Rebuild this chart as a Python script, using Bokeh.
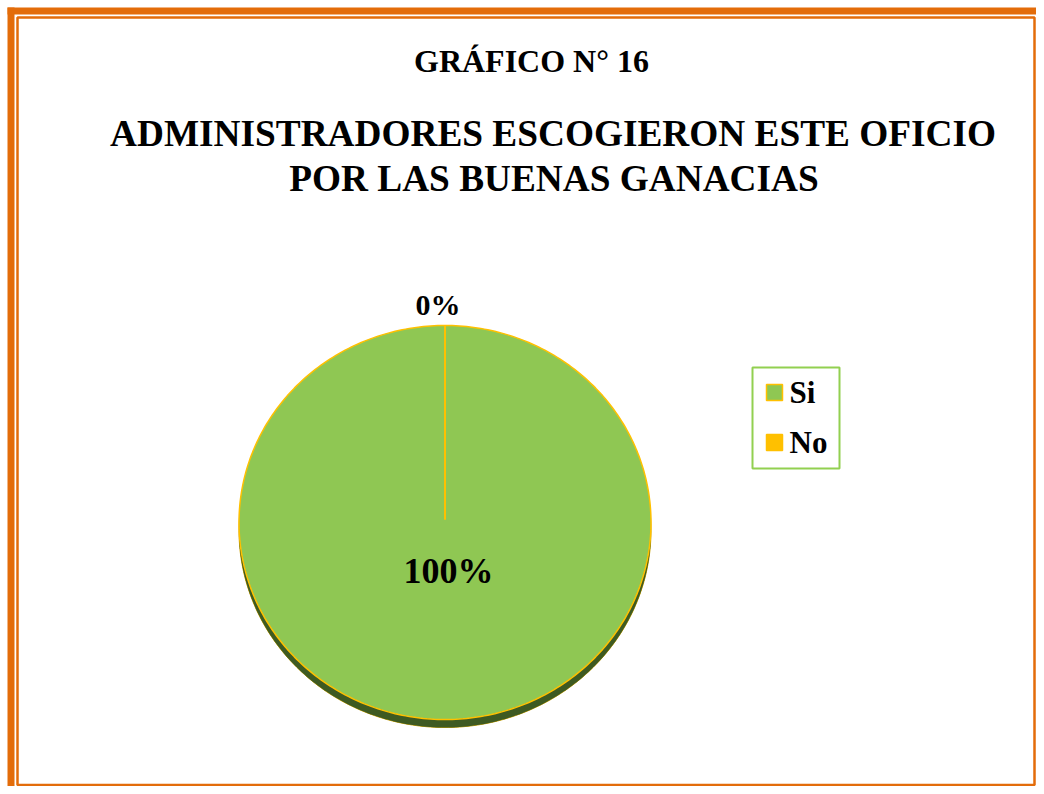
import numpy as np
from bokeh.plotting import figure
from bokeh.models import Range1d
from bokeh.core.properties import value
from bokeh.embed import file_html
from bokeh.resources import INLINE

# ---- data ----
categories = ["Si", "No"]
values = [100, 0]
pct_labels = ["100%", "0%"]
colors = ["#8FC753", "#FFC000"]
title_top = "GRÁFICO N° 16"
title_main = ["ADMINISTRADORES ESCOGIERON ESTE OFICIO", "POR LAS BUENAS GANACIAS"]

W, H = 1036, 786
FONT = value("Liberation Serif")
ORANGE = "#E36C0A"

p = figure(width=W, height=H, output_backend="svg", toolbar_location=None,
           x_range=Range1d(0, W), y_range=Range1d(H, 0), min_border=0)
p.axis.visible = False
p.grid.visible = False
p.outline_line_color = None
p.background_fill_color = "white"
p.border_fill_color = "white"

# ---- page border ----
p.quad(left=7, right=W, top=7, bottom=14, fill_color=ORANGE, line_color=None)
p.quad(left=7, right=14, top=7, bottom=H, fill_color=ORANGE, line_color=None)
p.quad(left=17, right=1034, top=17, bottom=784.5, fill_color=None,
       line_color=ORANGE, line_width=2.5)

# ---- titles ----
p.text(x=[531], y=[60], text=[title_top], text_font=FONT, text_font_style="bold",
       text_font_size="32px", text_align="center", text_baseline="middle", text_color="black")
p.text(x=[552.5, 553.5], y=[133, 178], text=title_main, text_font=FONT,
       text_font_style="bold", text_font_size="37.3px", text_align="center",
       text_baseline="middle", text_color="black")

# ---- pie (elliptical, 3D look) ----
cx, cy, rx, ry, depth = 444.5, 522, 206, 197, 8
total = float(sum(values))
fracs = [v / total for v in values]
starts = np.cumsum([0] + fracs[:-1]) * 2 * np.pi
ends = starts + np.array(fracs) * 2 * np.pi

def ell(t, dy=0.0):
    return cx + rx * np.sin(t), cy + dy - ry * np.cos(t)

# side (depth)
tt = np.linspace(0, 2 * np.pi, 361)
sx, sy = ell(tt, depth)
p.patch(sx, sy, fill_color="#3E5A22", line_color="#C9A000", line_width=1)
band_t = np.linspace(np.pi / 2, 3 * np.pi / 2, 181)
bx1, by1 = ell(band_t, 0)
bx2, by2 = ell(band_t[::-1], depth)
p.patch(np.concatenate([bx1, bx2]), np.concatenate([by1, by2]),
        fill_color="#3E5A22", line_color=None)

# top faces
for s, e, c, f in zip(starts, ends, colors, fracs):
    if f <= 0:
        continue
    t = np.linspace(s, e, max(int(360 * f), 2) + 1)
    xs, ys = ell(t)
    if f < 1:
        xs = np.concatenate([[cx], xs, [cx]])
        ys = np.concatenate([[cy], ys, [cy]])
    p.patch(xs, ys, fill_color=c, line_color="#FFC000", line_width=1.5)

# slice boundaries (shows the 0% slice as a line)
for s in starts:
    bx, by = ell(s)
    p.line([cx, bx], [cy - 3, by], line_color="#FFC000", line_width=2)

# percentage labels
for s, e, lab, f in zip(starts, ends, pct_labels, fracs):
    mid = (s + e) / 2
    if f > 0.5:
        r, fs, dx = 0.245, "36px", 3.5
    else:
        r, fs, dx = 1.105, "30px", -7
    lx = cx + r * rx * np.sin(mid) + dx
    ly = cy - r * ry * np.cos(mid)
    p.text(x=[lx], y=[ly], text=[lab], text_font=FONT, text_font_style="bold",
           text_font_size=fs, text_align="center", text_baseline="middle", text_color="black")

# ---- legend ----
p.quad(left=752, right=839, top=367, bottom=468, fill_color="white",
       line_color="#92D050", line_width=2)
for i, (cat, c) in enumerate(zip(categories, colors)):
    yy = 392 + 50 * i
    p.quad(left=766, right=782, top=yy - 8, bottom=yy + 8, fill_color=c,
           line_color="#FFC000", line_width=1.5)
    p.text(x=[789], y=[yy], text=[cat], text_font=FONT, text_font_style="bold",
           text_font_size="31px", text_align="left", text_baseline="middle", text_color="black")

open("out.html", "w").write(file_html(p, INLINE))
